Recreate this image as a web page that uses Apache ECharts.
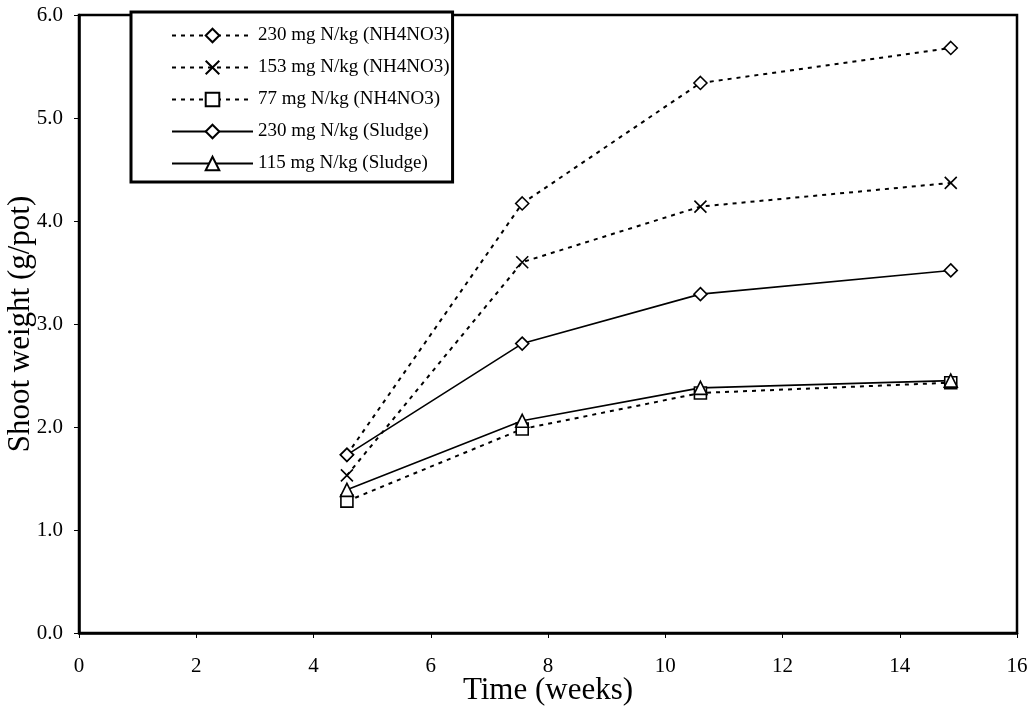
<!DOCTYPE html>
<html>
<head>
<meta charset="utf-8">
<script src="https://cdn.jsdelivr.net/npm/echarts@6/dist/echarts.min.js"></script>
<style>
  html, body { margin: 0; padding: 0; background: #fff; }
  #chart { width: 1031px; height: 717px; }
</style>
</head>
<body>
<div id="chart"></div>
<script>
// Sampling times (weeks)
const weeks = [4.57, 7.56, 10.6, 14.87];

// Shoot weight (g/pot) per treatment
const nh4no3_230 = [1.73, 4.17, 5.34, 5.68];
const nh4no3_153 = [1.53, 3.60, 4.14, 4.37];
const nh4no3_77  = [1.28, 1.98, 2.33, 2.43];
const sludge_230 = [1.73, 2.81, 3.29, 3.52];
const sludge_115 = [1.39, 2.06, 2.38, 2.45];

const seriesNames = [
  '230 mg N/kg (NH4NO3)',
  '153 mg N/kg (NH4NO3)',
  '77 mg N/kg (NH4NO3)',
  '230 mg N/kg (Sludge)',
  '115 mg N/kg (Sludge)'
];

const FONT = '"Liberation Serif", "Times New Roman", serif';
const CROSS = 'path://M0,0L12,12M12,0L0,12';

function pairs(ys) {
  return weeks.map((x, i) => [x, ys[i]]);
}

function makeSeries(name, ys, symbol, size, dashed) {
  return {
    name: name,
    type: 'line',
    data: pairs(ys),
    symbol: symbol,
    symbolSize: size,
    showSymbol: true,
    lineStyle: {
      color: '#000',
      width: dashed ? 2 : 1.6,
      type: dashed ? [4, 5] : 'solid'
    },
    itemStyle: { color: '#fff', borderColor: '#000', borderWidth: 1.6 },
    emphasis: { disabled: true }
  };
}

const chart = echarts.init(document.getElementById('chart'), null, { renderer: 'canvas' });

chart.setOption({
  animation: false,
  backgroundColor: '#fff',
  grid: {
    left: 79, right: 14, top: 15, bottom: 84,
    containLabel: false,
    outerBoundsMode: 'none',
    show: true, borderColor: '#000', borderWidth: 2.5, backgroundColor: 'transparent'
  },
  legend: {
    orient: 'vertical',
    left: 131, top: 12,
    backgroundColor: '#fff',
    borderColor: '#000',
    borderWidth: 3,
    padding: [14, 3, 9, 40],
    itemWidth: 81,
    itemHeight: 17,
    itemGap: 13,
    itemTextGap: 2,
    textStyle: { fontFamily: FONT, fontSize: 19, color: '#000' },
    data: seriesNames
  },
  xAxis: {
    type: 'value',
    min: 0, max: 16, interval: 2,
    name: 'Time (weeks)',
    nameLocation: 'middle',
    nameGap: 42,
    nameMoveOverlap: false,
    nameTextStyle: { fontFamily: FONT, fontSize: 31, color: '#000' },
    axisLine: { show: true, lineStyle: { color: '#000', width: 2.5 } },
    axisTick: { show: true, inside: false, length: 5, lineStyle: { color: '#000', width: 1 } },
    axisLabel: { fontFamily: FONT, fontSize: 21, color: '#000', margin: 23 },
    splitLine: { show: false }
  },
  yAxis: {
    type: 'value',
    min: 0, max: 6, interval: 1,
    name: 'Shoot weight (g/pot)',
    nameLocation: 'middle',
    nameGap: 43,
    nameMoveOverlap: false,
    nameTextStyle: { fontFamily: FONT, fontSize: 31, color: '#000' },
    axisLine: { show: true, lineStyle: { color: '#000', width: 2.5 } },
    axisTick: { show: true, inside: false, length: 5, lineStyle: { color: '#000', width: 1 } },
    axisLabel: {
      fontFamily: FONT, fontSize: 21, color: '#000', margin: 16,
      formatter: v => v.toFixed(1)
    },
    splitLine: { show: false }
  },
  series: [
    makeSeries(seriesNames[0], nh4no3_230, 'diamond', 13, true),
    makeSeries(seriesNames[1], nh4no3_153, CROSS, 12, true),
    makeSeries(seriesNames[2], nh4no3_77, 'rect', 12, true),
    makeSeries(seriesNames[3], sludge_230, 'diamond', 13, false),
    makeSeries(seriesNames[4], sludge_115, 'triangle', 13, false)
  ]
});
</script>
</body>
</html>
